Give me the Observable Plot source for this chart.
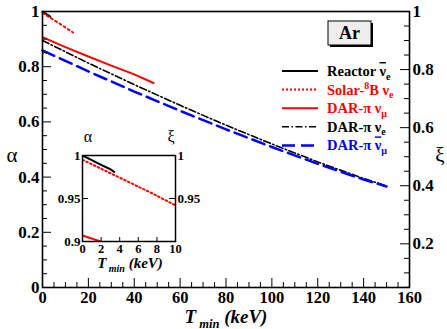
<!DOCTYPE html>
<html><head><meta charset="utf-8">
<script src="https://cdn.jsdelivr.net/npm/d3@7"></script>
<script src="https://cdn.jsdelivr.net/npm/@observablehq/plot@0.6"></script>
<style>
body{margin:0;background:white;}
#wrap{position:relative;width:447px;height:329px;overflow:hidden;background:white;}
#wrap svg{position:absolute;left:0;top:0;}
</style>
</head><body><div id="wrap"></div>
<script>
// ---- data (T_min in keV, alpha) ----
const reactorT = [0, 1, 2, 3, 3.4];
const reactorA = [1.0, 0.9945, 0.989, 0.984, 0.981];
const solarT = [0, 2.5, 5, 7.5, 10, 13.3];
const solarA = [0.995, 0.982, 0.969, 0.956, 0.942, 0.924];
const darMuT = [0, 10, 20, 30, 40, 48.4];
const darMuA = [0.907, 0.871, 0.837, 0.804, 0.772, 0.741];
const darET = [0, 20, 40, 60, 80, 100, 120, 140, 150];
const darEA = [0.895, 0.813, 0.735, 0.660, 0.588, 0.520, 0.455, 0.395, 0.368];
const darMuBarT = [0, 20, 40, 60, 80, 100, 120, 140, 150];
const darMuBarA = [0.859, 0.783, 0.710, 0.640, 0.573, 0.509, 0.448, 0.391, 0.366];

const xTicks = [0, 20, 40, 60, 80, 100, 120, 140, 160];
const yTicks = [0, 0.2, 0.4, 0.6, 0.8, 1];
const xiTicks = [0.2, 0.4, 0.6, 0.8, 1];
const insetXTicks = [0, 2, 4, 6, 8, 10];
const insetYTicks = [0.9, 0.95, 1];
const insetYLabels = ["0.9", "0.95", "1"];
const insetYRightLabels = ["", "0.95", "1"];

const series = [
  {name: "Reactor", T: reactorT, A: reactorA, stroke: "black", w: 2, dash: null},
  {name: "Solar", T: solarT, A: solarA, stroke: "#ff0000", w: 2, dash: "2,3"},
  {name: "DARmu", T: darMuT, A: darMuA, stroke: "#ff0000", w: 2, dash: null},
  {name: "DARe", T: darET, A: darEA, stroke: "black", w: 1.6, dash: "7,2.5,1.5,2.5"},
  {name: "DARmubar", T: darMuBarT, A: darMuBarA, stroke: "#0000ff", w: 2.5, dash: "13,6"}
];
const rows = s => s.T.map((t, i) => ({T: t, A: s.A[i], name: s.name}));

const FONT = "Liberation Serif";
// xi (right axis) expressed in alpha units
const xiToA = v => 1 - (1 - v) * 1.0522;

const W = 447, H = 329, mL = 42, mR = 38, mT = 11, mB = 42;
const pxX = 160 / (W - mL - mR), pxY = 1 / (H - mT - mB);
const minorX = d3.range(0, 161, 5).filter(v => v % 20 !== 0);
const minorY = d3.range(0, 1.0001, 0.05).map(v => +v.toFixed(2)).filter(v => Math.round(v * 100) % 20 !== 0);
const minorXi = d3.range(0.05, 1.0001, 0.05).map(v => +v.toFixed(2)).filter(v => Math.round(v * 100) % 20 !== 0 && xiToA(v) > 0);

const lineMarks = series.map(s => Plot.line(rows(s), {x: "T", y: "A", stroke: s.stroke, strokeWidth: s.w, strokeDasharray: s.dash}));

const main = Plot.plot({
  width: W, height: H, marginLeft: mL, marginRight: mR, marginTop: mT, marginBottom: mB,
  style: {background: "transparent", overflow: "visible"},
  x: {domain: [0, 160], axis: null},
  y: {domain: [0, 1], axis: null},
  marks: [
    ...lineMarks,
    Plot.ruleY(yTicks, {y: d => d, x1: 0, x2: 9 * pxX, stroke: "black", strokeWidth: 1}),
    Plot.ruleY(minorY, {y: d => d, x1: 0, x2: 5 * pxX, stroke: "black", strokeWidth: 1}),
    Plot.ruleY(xiTicks, {y: xiToA, x1: 160 - 9 * pxX, x2: 160, stroke: "black", strokeWidth: 1}),
    Plot.ruleY(minorXi, {y: xiToA, x1: 160 - 5 * pxX, x2: 160, stroke: "black", strokeWidth: 1}),
    Plot.ruleX(xTicks, {x: d => d, y1: 0, y2: 9 * pxY, stroke: "black", strokeWidth: 1}),
    Plot.ruleX(minorX, {x: d => d, y1: 0, y2: 5 * pxY, stroke: "black", strokeWidth: 1}),
    Plot.frame({stroke: "black", strokeWidth: 1.6}),
    Plot.text(yTicks, {x: 0, y: d => d, text: d => String(d), dx: -3, textAnchor: "end", fontFamily: FONT, fontWeight: "bold", fontSize: 17, fill: "black"}),
    Plot.text(xiTicks, {x: 160, y: xiToA, text: d => String(d), dx: 3, textAnchor: "start", fontFamily: FONT, fontWeight: "bold", fontSize: 17, fill: "black"}),
    Plot.text(xTicks, {x: d => d, y: 0, text: d => String(d), dy: 10.5, fontFamily: FONT, fontWeight: "bold", fontSize: 16.5, fill: "black"})
  ]
});
document.getElementById("wrap").appendChild(main);

// ---- inset ----
const iL = 30, iR = 30, iT = 20, iB = 40;
const inset = Plot.plot({
  width: 153, height: 146, marginLeft: iL, marginRight: iR, marginTop: iT, marginBottom: iB,
  style: {background: "transparent", overflow: "visible"},
  x: {domain: [0, 10], axis: null},
  y: {domain: [0.9, 1], axis: null},
  marks: [
    Plot.frame({fill: "white", stroke: "none"}),
    ...series.map(s => Plot.line(rows(s), {x: "T", y: "A", stroke: s.stroke, strokeWidth: s.w, strokeDasharray: s.name === "Solar" ? "1.6,2.6" : s.dash, clip: true})),
    Plot.ruleY([0.95], {y: d => d, x1: 0, x2: 10 * 6 / 93, stroke: "black"}),
    Plot.ruleY([0.95], {y: d => d, x1: 10 - 10 * 6 / 93, x2: 10, stroke: "black"}),
    Plot.ruleX(insetXTicks, {x: d => d, y1: 0.9, y2: 0.9 + 0.1 * 4 / 86, stroke: "black"}),
    Plot.frame({stroke: "black", strokeWidth: 1.5}),
    Plot.text(insetYTicks, {x: 0, y: d => d, text: (d, i) => insetYLabels[i], dx: -2, textAnchor: "end", fontFamily: FONT, fontWeight: "bold", fontSize: 13, fill: "black"}),
    Plot.text(insetYTicks, {x: 10, y: d => d, text: (d, i) => insetYRightLabels[i], dx: 2, textAnchor: "start", fontFamily: FONT, fontWeight: "bold", fontSize: 13, fill: "black"}),
    Plot.text(insetXTicks, {x: d => d, y: 0.9, text: d => String(d), dy: 7, fontFamily: FONT, fontWeight: "bold", fontSize: 12.5, fill: "black"})
  ]
});
inset.style.left = "52px"; inset.style.top = "135px";
document.getElementById("wrap").appendChild(inset);

// ---- annotations ----
const ann = d3.select("#wrap").append("svg").attr("width", W).attr("height", H)
  .style("pointer-events", "none").attr("font-family", FONT);

function rich(t, parts, subSize, subShift, supShift) {
  let cur = 0;
  parts.forEach(([txt, kind]) => {
    const target = kind === "sub" ? subShift : kind === "sup" ? -supShift : 0;
    const ts = t.append("tspan").attr("dy", target - cur).text(txt);
    cur = target;
    if (kind === "sub" || kind === "sup") ts.attr("font-size", subSize);
    if (kind === "bar") ts.attr("text-decoration", "overline").style("text-decoration", "overline");
  });
}

function tmin(x, y, big, small) {
  const t = ann.append("text").attr("x", x).attr("y", y).attr("text-anchor", "middle")
    .attr("font-weight", "bold").attr("font-style", "italic").attr("font-size", big);
  rich(t, [["T", null], [" min", "sub"], [" (keV)", null]], small, small * 0.4, 0);
}
tmin(226, 322.5, 19, 12.5);
tmin(130, 268, 15, 10);

ann.append("text").attr("x", 12).attr("y", 162).attr("text-anchor", "middle").attr("font-size", 21).text("α");
ann.append("text").attr("x", 440).attr("y", 162).attr("text-anchor", "middle").attr("font-size", 21).text("ξ");
ann.append("text").attr("x", 88).attr("y", 142).attr("text-anchor", "middle").attr("font-size", 16).text("α");
ann.append("text").attr("x", 171).attr("y", 142).attr("text-anchor", "middle").attr("font-size", 16).text("ξ");

// Ar box
ann.append("rect").attr("x", 330).attr("y", 23).attr("width", 43).attr("height", 24).attr("fill", "black");
ann.append("rect").attr("x", 328).attr("y", 21).attr("width", 43).attr("height", 24).attr("fill", "#eeeeee").attr("stroke", "black").attr("stroke-width", 1);
ann.append("text").attr("x", 349.5).attr("y", 39).attr("text-anchor", "middle").attr("font-weight", "bold").attr("font-size", 18).text("Ar");

// legend
const leg = [
  {s: series[0], color: "black", parts: [["Reactor ", null], ["ν", "bar"], ["e", "sub"]]},
  {s: series[1], color: "#ff0000", parts: [["Solar-", null], ["8", "sup"], ["B ν", null], ["e", "sub"]]},
  {s: series[2], color: "#ff0000", parts: [["DAR-π ν", null], ["μ", "sub"]]},
  {s: series[3], color: "black", parts: [["DAR-π ν", null], ["e", "sub"]]},
  {s: series[4], color: "#0000ff", parts: [["DAR-π ", null], ["ν", "bar"], ["μ", "sub"]]}
];
leg.forEach((e, i) => {
  const y = 71 + i * 18.6;
  ann.append("line").attr("x1", 282).attr("x2", 318).attr("y1", y).attr("y2", y)
    .attr("stroke", e.s.stroke).attr("stroke-width", e.s.w).attr("stroke-dasharray", e.s.name === "Solar" ? "2,2" : e.s.dash);
  const t = ann.append("text").attr("x", 327).attr("y", y + 5).attr("font-weight", "bold").attr("font-size", 14.5).attr("fill", e.color);
  rich(t, e.parts, 10, 3.5, 6);
});
</script></body></html>
